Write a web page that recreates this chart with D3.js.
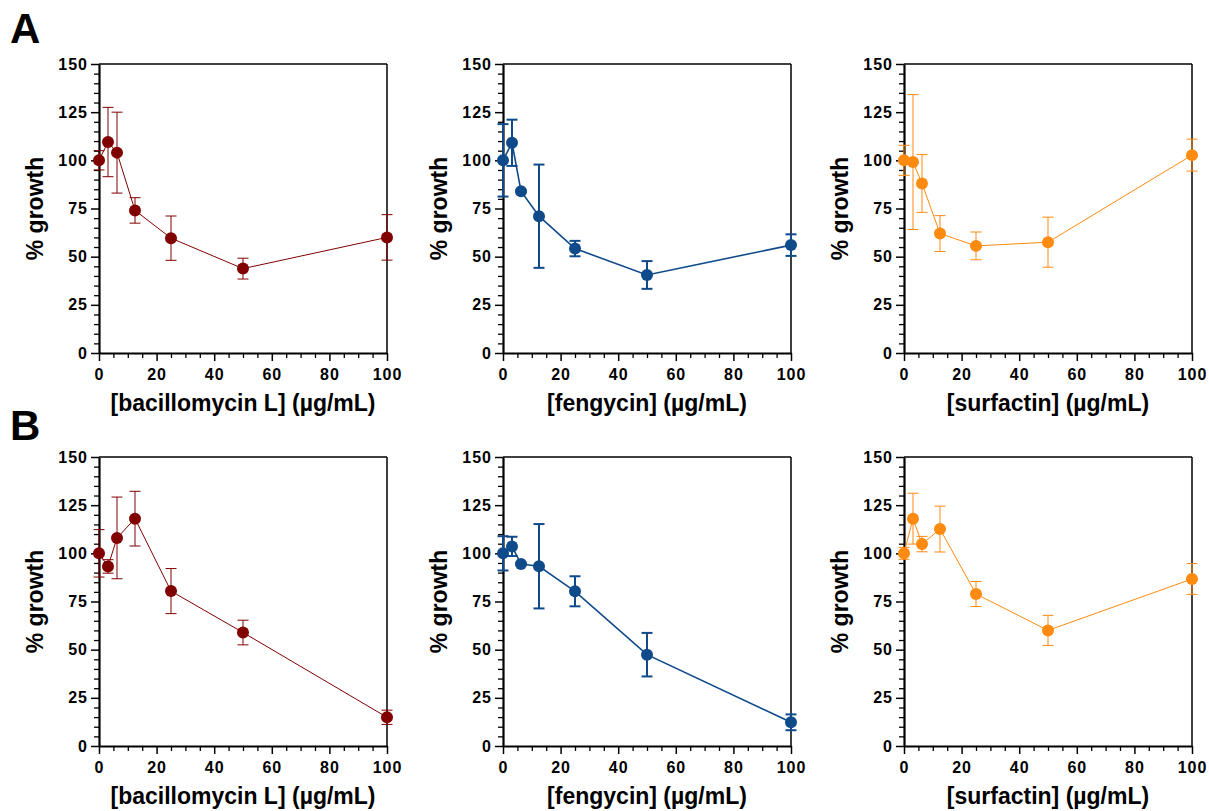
<!DOCTYPE html>
<html>
<head>
<meta charset="utf-8">
<script src="https://cdn.jsdelivr.net/npm/d3@7"></script>
<style>
  html, body { margin: 0; padding: 0; background: #fff; }
  svg { display: block; font-family: "Liberation Sans", Arial, Helvetica, sans-serif; }
</style>
</head>
<body>
<svg id="chart" width="1209" height="811"></svg>
<script>
// ---- data ----
const concentrations = [0, 3.125, 6.25, 12.5, 25, 50, 100];
const compounds = ["bacillomycin L", "fengycin", "surfactin"];
const panelLetters = ["A", "B"];
const yTickValues = [0, 25, 50, 75, 100, 125, 150];
const xTickValues = [0, 20, 40, 60, 80, 100];
const seriesColors = ["#800000", "#0f4a8a", "#ff8a10"];

// Row A
const A_bacillomycin_mean = [100, 109.5, 104, 74, 59.6, 43.8, 60];
const A_bacillomycin_err  = [5, 18, 21, 6.6, 11.5, 5.4, 11.8];
const A_fengycin_mean     = [100, 109.1, 84, 71, 54.2, 40.5, 56];
const A_fengycin_err      = [18.8, 12, 0.5, 26.8, 4, 7.2, 5.6];
const A_surfactin_mean    = [100, 99.1, 88, 62, 55.6, 57.5, 102.7];
const A_surfactin_err     = [7.8, 35, 15, 9.3, 7.2, 13, 8.3];
// Row B
const B_bacillomycin_mean = [100, 93.2, 108, 118, 80.4, 58.9, 14.9];
const B_bacillomycin_err  = [12.3, 3.5, 21.2, 14.2, 11.7, 6.4, 3.7];
const B_fengycin_mean     = [100, 103.6, 94.5, 93.3, 80.3, 47.4, 12.3];
const B_fengycin_err      = [8.9, 5, 0.5, 21.9, 7.8, 11.3, 4.1];
const B_surfactin_mean    = [100, 118, 104.8, 112.6, 78.9, 60, 86.7];
const B_surfactin_err     = [3.1, 13.2, 4, 11.9, 6.5, 7.8, 8];

const rows = [
  [[A_bacillomycin_mean, A_bacillomycin_err], [A_fengycin_mean, A_fengycin_err], [A_surfactin_mean, A_surfactin_err]],
  [[B_bacillomycin_mean, B_bacillomycin_err], [B_fengycin_mean, B_fengycin_err], [B_surfactin_mean, B_surfactin_err]]
];

// ---- layout ----
const colX = [99, 503, 904];
const rowY = [64, 457];
const plotW = 288, plotH = 289;
const lineW = [1, 1.6, 1];
const errW = [1, 2, 1];

const svg = d3.select("#chart");

rows.forEach((row, ri) => {
  svg.append("text")
    .attr("x", 10).attr("y", ri === 0 ? 43 : 440)
    .attr("font-size", 42).attr("font-weight", "bold")
    .text(panelLetters[ri]);

  row.forEach(([means, errs], ci) => {
    const color = seriesColors[ci];
    const g = svg.append("g").attr("transform", `translate(${colX[ci]},${rowY[ri]})`);
    const x = d3.scaleLinear().domain([0, 100]).range([0, plotW]);
    const y = d3.scaleLinear().domain([0, 150]).range([plotH, 0]);

    // box top/right
    g.append("line").attr("x1", 0).attr("x2", plotW).attr("y1", 0).attr("y2", 0)
      .attr("stroke", "#000").attr("stroke-width", 1.5);
    g.append("line").attr("x1", plotW).attr("x2", plotW).attr("y1", 0).attr("y2", plotH)
      .attr("stroke", "#000").attr("stroke-width", 1.5);

    // minor ticks
    const yMinor = d3.range(0, 151, 5).filter(v => v % 25 !== 0);
    const xMinor = d3.range(0, 101, 5).filter(v => v % 20 !== 0);
    g.append("g").call(d3.axisLeft(y).tickValues(yMinor).tickSize(5).tickSizeOuter(0).tickFormat(""))
      .call(s => s.select(".domain").remove())
      .selectAll("line").attr("stroke-width", 1.3);
    g.append("g").attr("transform", `translate(0,${plotH})`)
      .call(d3.axisBottom(x).tickValues(xMinor).tickSize(5).tickSizeOuter(0).tickFormat(""))
      .call(s => s.select(".domain").remove())
      .selectAll("line").attr("stroke-width", 1.3);

    // major axes
    const ya = g.append("g").call(d3.axisLeft(y).tickValues(yTickValues).tickSize(8).tickSizeOuter(0).tickPadding(3));
    const xa = g.append("g").attr("transform", `translate(0,${plotH})`)
      .call(d3.axisBottom(x).tickValues(xTickValues).tickSize(8).tickSizeOuter(0).tickPadding(8));
    [ya, xa].forEach(a => {
      a.select(".domain").attr("stroke-width", 2.2);
      a.selectAll(".tick line").attr("stroke-width", 1.5);
      a.selectAll("text").attr("font-size", 16).attr("font-weight", "bold")
        .attr("fill", "#000").style("letter-spacing", "1px")
        .attr("font-family", "'Liberation Sans', Arial, sans-serif");
    });

    // axis titles
    g.append("text")
      .attr("transform", `translate(-56,${plotH / 2}) rotate(-90)`)
      .attr("text-anchor", "middle").attr("font-size", 23).attr("font-weight", "bold")
      .text("% growth");
    g.append("text")
      .attr("x", plotW / 2).attr("y", plotH + 58)
      .attr("text-anchor", "middle").attr("font-size", 23).attr("font-weight", "bold")
      .text(`[${compounds[ci]}] (µg/mL)`);

    const pts = concentrations.map((c, i) => ({ c, m: means[i], e: errs[i] }));

    // connecting line
    g.append("path").datum(pts)
      .attr("fill", "none").attr("stroke", color).attr("stroke-width", lineW[ci])
      .attr("d", d3.line().x(d => x(d.c)).y(d => y(d.m)));

    // error bars
    const eb = g.append("g").attr("stroke", color).attr("stroke-width", errW[ci]).attr("fill", "none");
    const cap = 5.5;
    pts.forEach(d => {
      const cx = x(d.c), y1 = y(d.m + d.e), y2 = y(d.m - d.e);
      eb.append("line").attr("x1", cx).attr("x2", cx).attr("y1", y1).attr("y2", y2);
      eb.append("line").attr("x1", cx - cap).attr("x2", cx + cap).attr("y1", y1).attr("y2", y1);
      eb.append("line").attr("x1", cx - cap).attr("x2", cx + cap).attr("y1", y2).attr("y2", y2);
    });

    // markers
    g.selectAll("circle.pt").data(pts).enter().append("circle")
      .attr("class", "pt")
      .attr("cx", d => x(d.c)).attr("cy", d => y(d.m)).attr("r", 6)
      .attr("fill", color);
  });
});
</script>
</body>
</html>
